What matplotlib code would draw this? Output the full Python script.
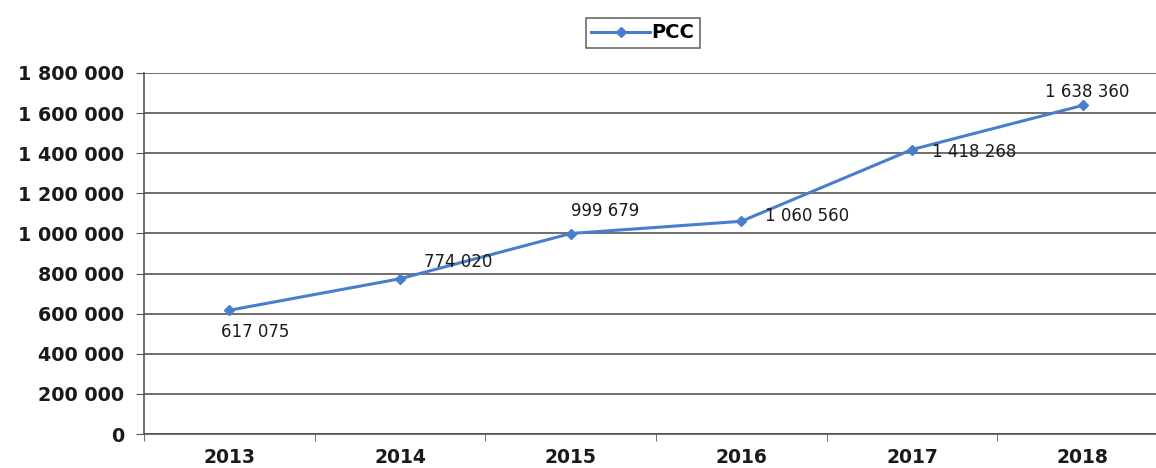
import numpy as np
import matplotlib.pyplot as plt
from matplotlib.ticker import FuncFormatter, FixedLocator

# data
years = ["2013", "2014", "2015", "2016", "2017", "2018"]
pcc = [617075, 774020, 999679, 1060560, 1418268, 1638360]
# data label offsets in points (dx, dy)
label_offsets = [(18.7, -15.8), (42, 12), (25, 16.5), (47.5, 3.6), (44.6, -2), (3.6, 9.4)]

def fmt(v):
    return "{:,}".format(int(v)).replace(",", " ")

plt.rcParams['font.family'] = ['DejaVu Sans']

W, H = 1156, 468
fig = plt.figure(figsize=(W/100, H/100), dpi=100)
ax = fig.add_axes([144/W, (H-434)/H, (W-144)/W, (434-73)/H])

x = np.arange(len(years))
line, = ax.plot(x, pcc, color='#4a7ecc', lw=2.2, marker='D', ms=5.5, label='PCC')

for xi, v, off in zip(x, pcc, label_offsets):
    ax.annotate(fmt(v), (xi, v), xytext=off, textcoords='offset points',
                ha='center', va='center', fontsize=12, color='#1a1a1a')

ax.set_xlim(-0.5, 5.43)
ax.set_ylim(0, 1800000)
ax.yaxis.set_major_locator(FixedLocator(np.arange(0, 1800001, 200000)))
ax.yaxis.set_major_formatter(FuncFormatter(lambda v, p: fmt(v)))
ax.grid(axis='y', color='#555555', lw=1.2)
ax.set_axisbelow(True)

ax.set_xticks(x)
ax.set_xticklabels(years, fontsize=13.5, fontweight='bold', color='#1a1a1a')
ax.set_xticks(np.arange(-0.5, 5.0, 1), minor=True)
ax.tick_params(axis='x', which='major', length=0, pad=10)
ax.tick_params(axis='x', which='minor', length=5, color='#555555', direction='out')
ax.tick_params(axis='y', length=6, color='#555555', labelsize=13.8, pad=8, labelcolor='#1a1a1a')
for lab in ax.get_yticklabels():
    lab.set_fontweight('bold')

for s in ['top', 'right']:
    ax.spines[s].set_visible(False)
ax.spines['left'].set_color('#555555')
ax.spines['bottom'].set_color('#555555')
ax.spines['left'].set_linewidth(1.2)
ax.spines['bottom'].set_linewidth(1.2)

leg = fig.legend(handles=[line], loc='center', bbox_to_anchor=(643/W, 1 - 33/H),
                 prop={'size': 14, 'weight': 'bold'}, frameon=True, fancybox=False,
                 edgecolor='#444444', handlelength=3.0, borderpad=0.3, handletextpad=0.1)
leg.get_frame().set_linewidth(1.2)

fig.savefig('out.png', dpi=100)
